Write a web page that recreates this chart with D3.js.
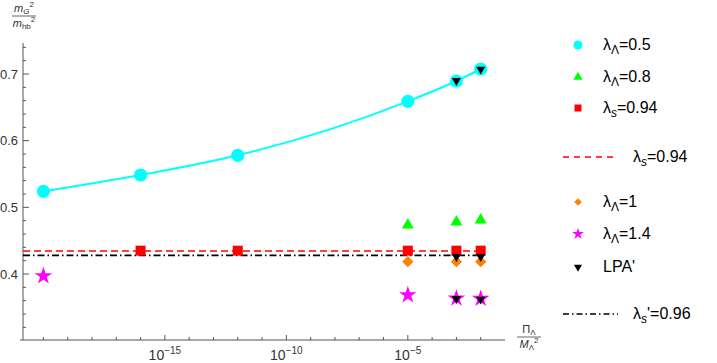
<!DOCTYPE html>
<html>
<head>
<meta charset="utf-8">
<script src="https://cdn.jsdelivr.net/npm/d3@7"></script>
<style>
  body { margin: 0; background: #fff; }
  svg { font-family: "Liberation Sans", Arial, sans-serif; }
</style>
</head>
<body>
<svg id="chart" width="717" height="363"></svg>
<script>
// Data
const cyanX = [1e-20, 1e-16, 1e-12, 1e-5, 1e-3, 1e-2];
const cyanY = [0.524, 0.5485, 0.578, 0.659, 0.6895, 0.7075];
const greenX = [1e-5, 1e-3, 1e-2];
const greenY = [0.4735, 0.478, 0.481];
const redX = [1e-16, 1e-12, 1e-5, 1e-3, 1e-2];
const redY = [0.435, 0.435, 0.435, 0.435, 0.435];
const orangeX = [1e-5, 1e-3, 1e-2];
const orangeY = [0.4185, 0.4185, 0.4185];
const magentaX = [1e-20, 1e-5, 1e-3, 1e-2];
const magentaY = [0.397, 0.3685, 0.3635, 0.363];
const lpaX = [1e-3, 1e-3, 1e-3, 1e-2, 1e-2, 1e-2];
const lpaY = [0.690, 0.426, 0.363, 0.707, 0.426, 0.362];
const redLineY = 0.4345;
const blackLineY = 0.428;
const hLineEnd = 1.5e-2;

const xMajorExp = [-15, -10, -5];
const xMinorExp = [-20, -19, -18, -17, -16, -14, -13, -12, -11, -9, -8, -7, -6, -4, -3, -2];
const yMajor = [0.4, 0.5, 0.6, 0.7];
const yMinor = [0.32, 0.34, 0.36, 0.38, 0.42, 0.44, 0.46, 0.48, 0.52, 0.54, 0.56, 0.58,
                0.62, 0.64, 0.66, 0.68, 0.72, 0.74];

const svg = d3.select("#chart");
const axisColor = "#555";
const labelColor = "#333";

// Scales
const x = d3.scaleLog().domain([Math.pow(10, -20.84), 1e-1]).range([23, 505]);
const y = d3.scaleLinear().domain([0.301, 0.7465]).range([340, 43]);

// X axis (ticks point inward / upward)
const xAxis = svg.append("g").attr("transform", "translate(0,340)");
xAxis.append("line").attr("x1", 20).attr("x2", 505).attr("y1", 0).attr("y2", 0)
    .attr("stroke", axisColor).attr("stroke-width", 1);
xAxis.selectAll(".xmaj").data(xMajorExp).enter().append("line")
    .attr("x1", d => x(Math.pow(10, d))).attr("x2", d => x(Math.pow(10, d)))
    .attr("y1", 0).attr("y2", -5).attr("stroke", axisColor);
xAxis.selectAll(".xmin").data(xMinorExp).enter().append("line")
    .attr("x1", d => x(Math.pow(10, d))).attr("x2", d => x(Math.pow(10, d)))
    .attr("y1", 0).attr("y2", -3).attr("stroke", axisColor);
const xl = xAxis.selectAll(".xlab").data(xMajorExp).enter().append("text")
    .attr("x", d => x(Math.pow(10, d)))
    .attr("y", 20)
    .attr("text-anchor", "middle")
    .attr("fill", labelColor)
    .attr("font-size", 14);
xl.append("tspan").text("10");
xl.append("tspan").attr("dy", -6).attr("font-size", 10).text(d => "\u2212" + (-d));

// Y axis
const yAxis = svg.append("g").attr("transform", "translate(23,0)");
yAxis.append("line").attr("x1", 0).attr("x2", 0).attr("y1", 43).attr("y2", 340)
    .attr("stroke", axisColor);
yAxis.selectAll(".ymaj").data(yMajor).enter().append("line")
    .attr("x1", 0).attr("x2", 6).attr("y1", d => y(d)).attr("y2", d => y(d))
    .attr("stroke", axisColor);
yAxis.selectAll(".ymin").data(yMinor).enter().append("line")
    .attr("x1", 0).attr("x2", 3).attr("y1", d => y(d)).attr("y2", d => y(d))
    .attr("stroke", axisColor);
yAxis.selectAll(".ylab").data(yMajor).enter().append("text")
    .attr("x", -5).attr("y", d => y(d)).attr("dy", "0.36em")
    .attr("text-anchor", "end").attr("fill", labelColor).attr("font-size", 13)
    .text(d => d3.format(".1f")(d));

// Axis labels (fractions)
function fraction(cx, top, num, den) {
  const g = svg.append("g").attr("fill", labelColor).attr("font-size", 11);
  const n = g.append("text").attr("x", cx).attr("y", top).attr("text-anchor", "middle");
  num(n);
  g.append("line").attr("x1", cx - 12).attr("x2", cx + 12)
      .attr("y1", top + 4).attr("y2", top + 4).attr("stroke", "#666").attr("stroke-width", 1);
  const d = g.append("text").attr("x", cx).attr("y", top + 15).attr("text-anchor", "middle");
  den(d);
}
fraction(24, 12, t => {
  t.append("tspan").style("font-style", "italic").text("m");
  t.append("tspan").style("font-style", "italic").attr("font-size", 8).attr("dy", 2).text("G");
  t.append("tspan").attr("font-size", 8).attr("dy", -7).text("2");
}, t => {
  t.append("tspan").style("font-style", "italic").text("m");
  t.append("tspan").attr("font-size", 8).attr("dy", 2).text("hb");
  t.append("tspan").attr("font-size", 8).attr("dy", -7).text("2");
});
fraction(529, 333, t => {
  t.append("tspan").text("\u03A0");
  t.append("tspan").attr("font-size", 8).attr("dy", 2).text("\u039B");
}, t => {
  t.append("tspan").style("font-style", "italic").text("M");
  t.append("tspan").attr("font-size", 8).attr("dy", 2).text("\u039B");
  t.append("tspan").attr("font-size", 8).attr("dy", -7).text("2");
});

// Horizontal reference lines
const x0 = x.domain()[0];
svg.append("line")
    .attr("x1", x(x0)).attr("x2", x(hLineEnd))
    .attr("y1", y(redLineY)).attr("y2", y(redLineY))
    .attr("stroke", "#ff0000").attr("stroke-width", 1.6).attr("stroke-dasharray", "7,4");
svg.append("line")
    .attr("x1", x(x0)).attr("x2", x(hLineEnd))
    .attr("y1", y(blackLineY)).attr("y2", y(blackLineY))
    .attr("stroke", "#000").attr("stroke-width", 1.6).attr("stroke-dasharray", "7,3,1.5,3");

// Cyan interpolating curve
const cyanPts = cyanX.map((v, i) => [v, cyanY[i]]);
svg.append("path")
    .datum(cyanPts)
    .attr("fill", "none").attr("stroke", "#00ffff").attr("stroke-width", 2)
    .attr("d", d3.line().x(d => x(d[0])).y(d => y(d[1])).curve(d3.curveMonotoneX));

function markers(xs, ys, type, size, color, rotate) {
  svg.append("g").selectAll("path").data(xs.map((v, i) => [v, ys[i]])).enter()
      .append("path")
      .attr("d", d3.symbol().type(type).size(size))
      .attr("transform", d => "translate(" + x(d[0]) + "," + y(d[1]) + ")" + (rotate ? " rotate(" + rotate + ")" : ""))
      .attr("fill", color);
}
markers(cyanX, cyanY, d3.symbolCircle, 135, "#00ffff");
markers(greenX, greenY, d3.symbolTriangle, 62, "#00ff00");
markers(redX, redY, d3.symbolSquare, 100, "#ff0000");
markers(orangeX, orangeY, d3.symbolDiamond2, 80, "#ff8000");
markers(magentaX, magentaY, d3.symbolStar, 95, "#ff00ff");
markers(lpaX, lpaY, d3.symbolTriangle, 36, "#000", 180);

// Legend
const legend = svg.append("g").attr("font-size", 16).attr("fill", "#000");
function lambdaLabel(t, sub, italicSub, rest) {
  t.append("tspan").text("\u03BB");
  const s = t.append("tspan").attr("font-size", 12).attr("dy", 4).text(sub);
  if (italicSub) s.style("font-style", "italic");
  t.append("tspan").attr("dy", -4).text(rest);
}
const pointItems = [
  {y: 45, type: d3.symbolCircle, size: 64, color: "#00ffff", sub: "\u039B", it: false, rest: "=0.5"},
  {y: 77, type: d3.symbolTriangle, size: 36, color: "#00ff00", sub: "\u039B", it: false, rest: "=0.8"},
  {y: 108, type: d3.symbolSquare, size: 49, color: "#ff0000", sub: "s", it: true, rest: "=0.94"},
  {y: 202, type: d3.symbolDiamond2, size: 36, color: "#ff8000", sub: "\u039B", it: false, rest: "=1"},
  {y: 234, type: d3.symbolStar, size: 42, color: "#ff00ff", sub: "\u039B", it: false, rest: "=1.4"},
  {y: 267, type: d3.symbolTriangle, size: 28, color: "#000", rot: 180, text: "LPA'"}
];
pointItems.forEach(it => {
  legend.append("path")
      .attr("d", d3.symbol().type(it.type).size(it.size))
      .attr("transform", "translate(578," + it.y + ")" + (it.rot ? " rotate(" + it.rot + ")" : ""))
      .attr("fill", it.color);
  const t = legend.append("text").attr("x", 603).attr("y", it.y + 5);
  if (it.text) t.text(it.text);
  else lambdaLabel(t, it.sub, it.it, it.rest);
});
legend.append("line").attr("x1", 563).attr("x2", 618).attr("y1", 157).attr("y2", 157)
    .attr("stroke", "#ff0000").attr("stroke-width", 1.6).attr("stroke-dasharray", "6,5");
lambdaLabel(legend.append("text").attr("x", 633).attr("y", 162), "s", true, "=0.94");
legend.append("line").attr("x1", 563).attr("x2", 618).attr("y1", 314).attr("y2", 314)
    .attr("stroke", "#000").attr("stroke-width", 1.6).attr("stroke-dasharray", "6,3,1.5,3");
lambdaLabel(legend.append("text").attr("x", 633).attr("y", 319), "s", true, "'=0.96");
</script>
</body>
</html>
